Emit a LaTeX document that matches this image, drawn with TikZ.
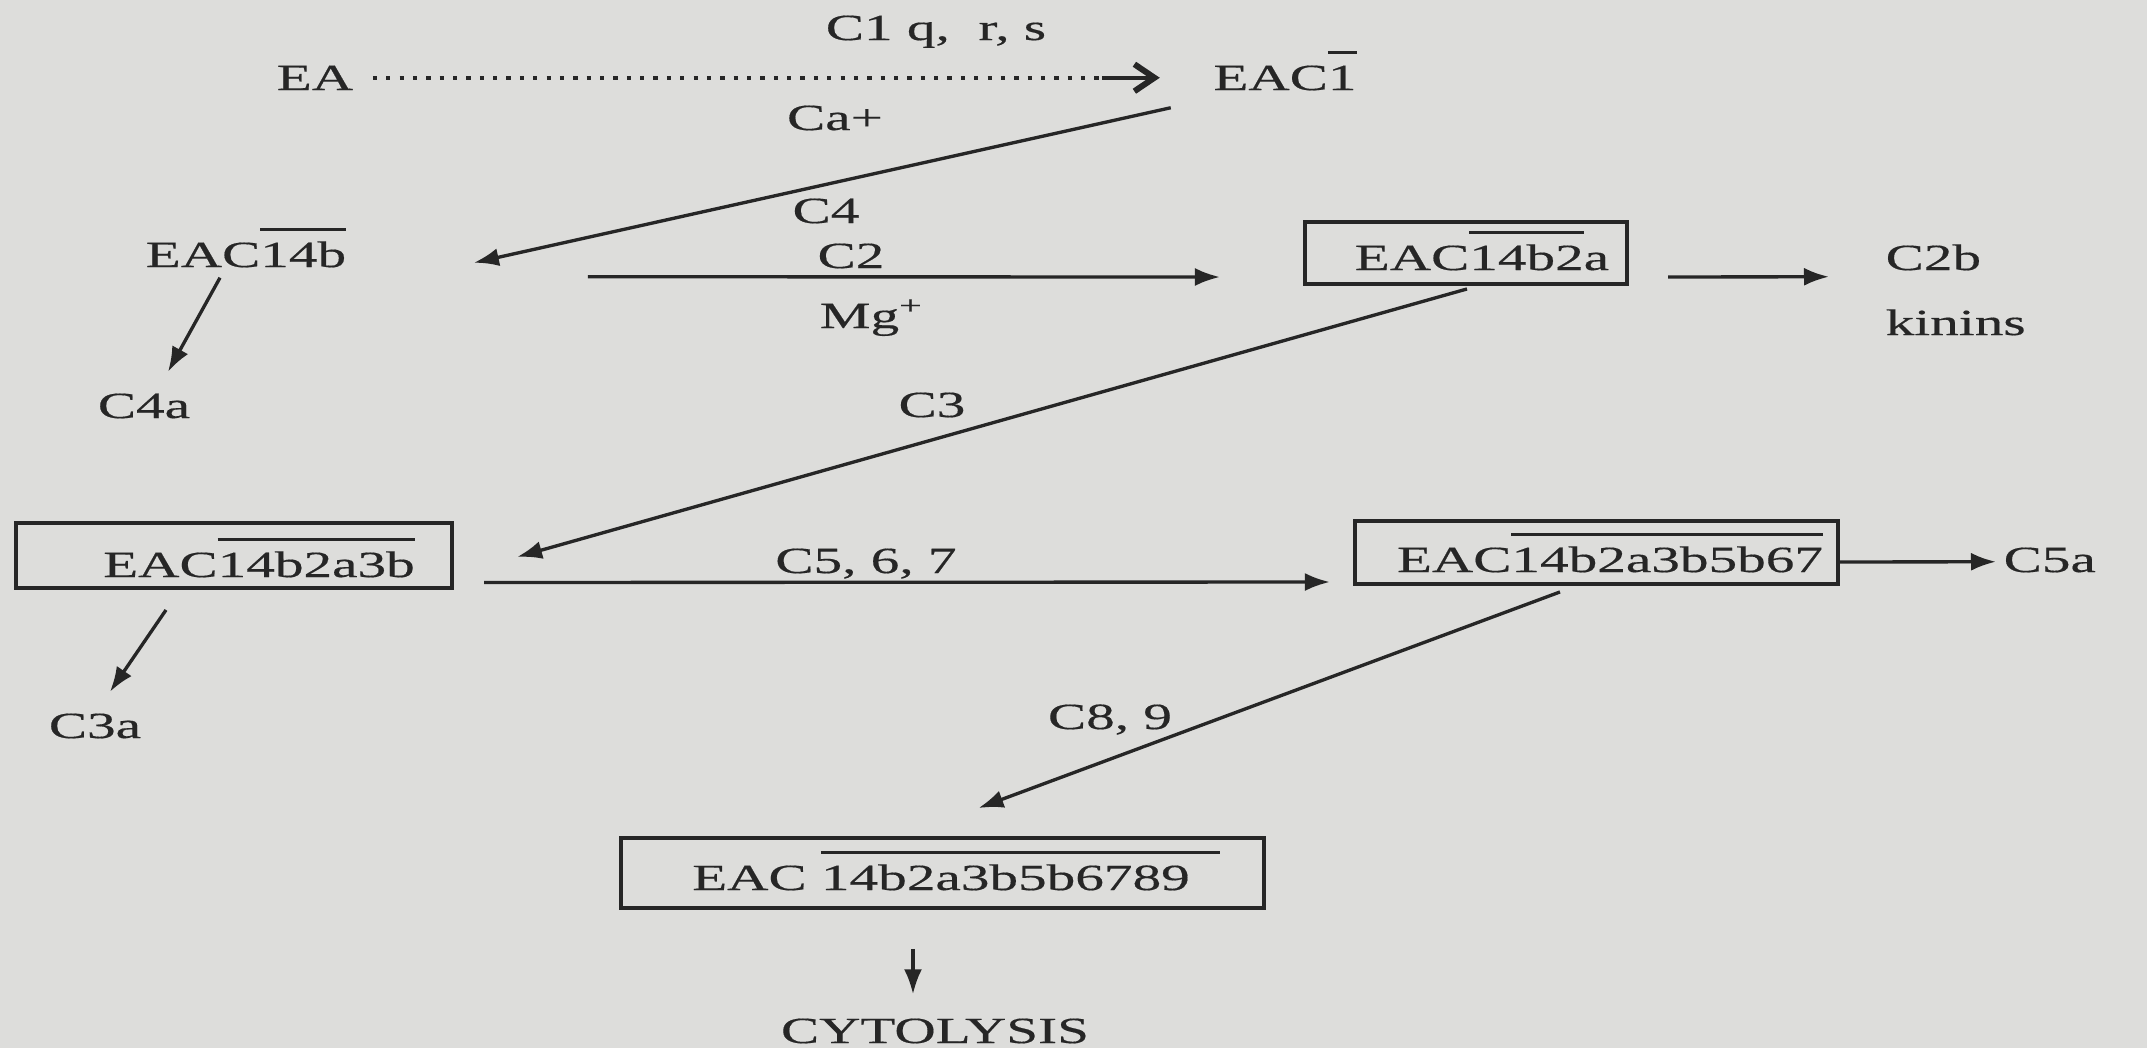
\documentclass[tikz,border=0pt]{standalone}
\usepackage{fontspec}
\setmainfont[FakeStretch=1.55,FakeBold=0.4]{Liberation Serif}
\usetikzlibrary{arrows.meta}
\definecolor{bg}{RGB}{221,221,219}
\definecolor{ink}{RGB}{38,38,38}
\newsavebox\ovlbox
\newcommand\ovl[2][0pt]{\sbox\ovlbox{#2}\rlap{\rule[0.355cm]{\dimexpr\wd\ovlbox+#1\relax}{1.1pt}}\usebox\ovlbox}
\begin{document}
\begin{tikzpicture}[x=0.01cm,y=-0.01cm,
  lab/.style={inner sep=0pt, text height=0.245cm, text depth=0pt, anchor=base, text=ink,
    font=\fontsize{10.5pt}{12pt}\selectfont},
  boxst/.style={draw=ink, line width=1.1pt, inner sep=0pt},
  arr/.style={draw=ink, line width=0.95pt, -{Latex[length=0.25cm,width=0.18cm]}},
  dotline/.style={draw=ink, line width=1.2pt, dash pattern=on 1.2pt off 2.6pt},
  barb/.style={draw=ink, line width=1pt, -{Straight Barb[length=0.2cm,width=0.27cm,line width=1.7pt]}}]
\fill[bg] (0,0) rectangle (2147,1048);
\useasboundingbox (0,0) rectangle (2147,1048);

% labels
\node[lab] (c1lab) at (936,40) {C1 q,\ \ r, s};
\node[lab] (ea) at (315,90) {EA};
\node[lab] (eac1) at (1285,90) {EAC\ovl{1}};
\node[lab] (calab) at (835,130) {Ca+};
\node[lab] (c4lab) at (826,223) {C4};
\node[lab] (eac14b) at (246,267) {EAC\ovl{14b}};
\node[lab] (c2lab) at (851,268) {C2};
\node[lab, anchor=base west] (mglab) at (819,328) {Mg\textsuperscript{+}};
\node[lab, anchor=base west] (c2b) at (1885,270) {C2b};
\node[lab, anchor=base west] (kinins) at (1885,335) {kinins};
\node[lab] (c4a) at (144,418) {C4a};
\node[lab] (c3lab) at (932,417) {C3};
\node[lab] (c567) at (866,573) {C5, 6, 7};
\node[lab, anchor=base west] (c5a) at (2003,572) {C5a};
\node[lab] (c3a) at (95,738) {C3a};
\node[lab] (c89) at (1110,729) {C8, 9};
\node[lab] (cyto) at (935,1043) {CYTOLYSIS};

% boxes
\node[boxst, minimum width=3.22cm, minimum height=0.62cm] (b1) at (1466,253) {};
\node[lab] (b1t) at (1482,270) {EAC\ovl{14b2}a};
\node[boxst, minimum width=4.36cm, minimum height=0.65cm] (b2) at (234,555.5) {};
\node[lab] (b2t) at (259,577) {EAC\ovl{14b2a3b}};
\node[boxst, minimum width=4.83cm, minimum height=0.63cm] (b3) at (1596.5,552.5) {};
\node[lab] (b3t) at (1610,572) {EAC\ovl{14b2a3b5b67}};
\node[boxst, minimum width=6.43cm, minimum height=0.70cm] (b4) at (942.5,873) {};
\node[lab] (b4t) at (941,890) {EAC \ovl[0.3cm]{14b2a3b5b6789}};

% connectors
\draw[dotline] ([shift={(19,0)}]ea.east) -- ([shift={(-111,0)}]eac1.west);
\draw[barb] ([shift={(-111,0)}]eac1.west) -- ([shift={(-53,0)}]eac1.west);
\draw[arr] ([shift={(-42,30)}]eac1.west) -- ([shift={(127,8)}]eac14b.east);
\draw[arr] ([shift={(241,22)}]eac14b.east) -- ([shift={(-83,24)}]b1.west);
\draw[arr] ([shift={(39,24)}]b1.east) -- ([shift={(-56,19)}]c2b.west);
\draw[arr] ([shift={(-26,10)}]eac14b.south) -- ([shift={(24,-21)}]c4a.north);
\draw[arr] ([shift={(1,3)}]b1.south) -- ([shift={(63,1.5)}]b2.east);
\draw[arr] ([shift={(30,27)}]b2.east) -- ([shift={(-23,29.5)}]b3.west);
\draw[arr] ([shift={(-68,20)}]b2.south) -- ([shift={(15,-21)}]c3a.north);
\draw[arr] ([shift={(0,9.5)}]b3.east) -- ([shift={(-7,2)}]c5a.west);
\draw[arr] ([shift={(-36.5,6)}]b3.south) -- ([shift={(36,-28)}]b4.north);
\draw[arr] ([shift={(-29.5,39)}]b4.south) -- ([shift={(-22,-23.5)}]cyto.north);
\end{tikzpicture}
\end{document}
